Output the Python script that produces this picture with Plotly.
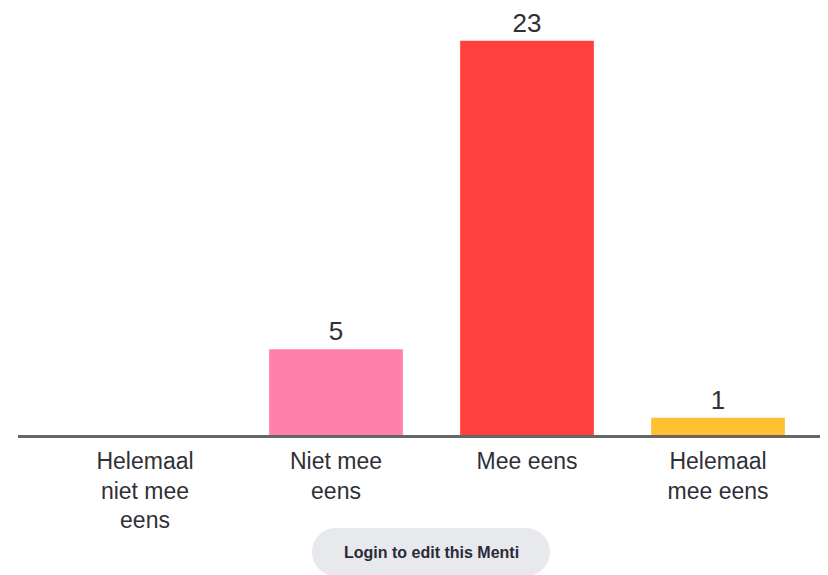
import plotly.graph_objects as go

categories = ["Helemaal<br>niet mee<br>eens", "Niet mee<br>eens", "Mee eens", "Helemaal<br>mee eens"]
values = [0, 5, 23, 1]
bar_colors = ["#5769e7", "#ff80ab", "#ff403d", "#ffc132"]
value_labels = ["" if v == 0 else str(v) for v in values]
button_text = "Login to edit this Menti"

# the page body adds an 8px margin; size the figure so it fills the 828x575 window
W, H = 820, 567
ml, mr, mt, mb = 10, 0, 0, 140
x0px = 137.0      # figure-pixel centre of first category
step = 191.0      # pixels between categories
plot_w = W - ml - mr
xr = [(ml - x0px) / step, (W - mr - x0px) / step]
px_per_unit = (435 - 40.7) / 23
plot_h = H - mt - mb
yr = [0, plot_h / px_per_unit]

fig = go.Figure(go.Bar(
    x=list(range(len(categories))),
    y=values,
    marker=dict(color=bar_colors, line=dict(width=0)),
    width=0.70,
    text=value_labels,
    textposition="outside",
    textfont=dict(family="Liberation Sans, Arial, sans-serif", size=26, color="#303036"),
    cliponaxis=False,
    hoverinfo="skip",
))

btn_cx = 423
btn_cy = 544
bx = (btn_cx - ml) / plot_w
by = ((H - mb) - btn_cy) / plot_h
hw, r, k = 119, 24, 13.25
s = hw - r
path = (f"M {-s},{-r} L {s},{-r} C {s+k},{-r} {hw},{-k} {hw},0 "
        f"C {hw},{k} {s+k},{r} {s},{r} L {-s},{r} "
        f"C {-s-k},{r} {-hw},{k} {-hw},0 C {-hw},{-k} {-s-k},{-r} {-s},{-r} Z")

fig.update_layout(
    width=W, height=H,
    margin=dict(l=ml, r=mr, t=mt, b=mb),
    paper_bgcolor="white", plot_bgcolor="white",
    showlegend=False,
    font=dict(family="Liberation Sans, Arial, sans-serif", color="#303036"),
    xaxis=dict(
        range=xr,
        tickmode="array",
        tickvals=list(range(len(categories))),
        ticktext=categories,
        tickfont=dict(size=23, color="#303036"),
        ticklabelstandoff=3,
        showline=True, linecolor="#666666", linewidth=3,
        showgrid=False, zeroline=False, ticks="",
        fixedrange=True,
    ),
    yaxis=dict(range=yr, visible=False, fixedrange=True),
    shapes=[dict(
        type="path", xref="paper", yref="paper",
        xsizemode="pixel", ysizemode="pixel",
        xanchor=bx, yanchor=by,
        path=path, fillcolor="#e8e9ec", line=dict(width=0), layer="below",
    )],
    annotations=[dict(
        text=f"<b>{button_text}</b>", xref="paper", yref="paper",
        x=bx, y=by, xanchor="center", yanchor="middle", showarrow=False,
        font=dict(size=16, color="#2a2a3a", family="Liberation Sans, Arial, sans-serif"),
    )],
)

fig.write_html("out.html")
